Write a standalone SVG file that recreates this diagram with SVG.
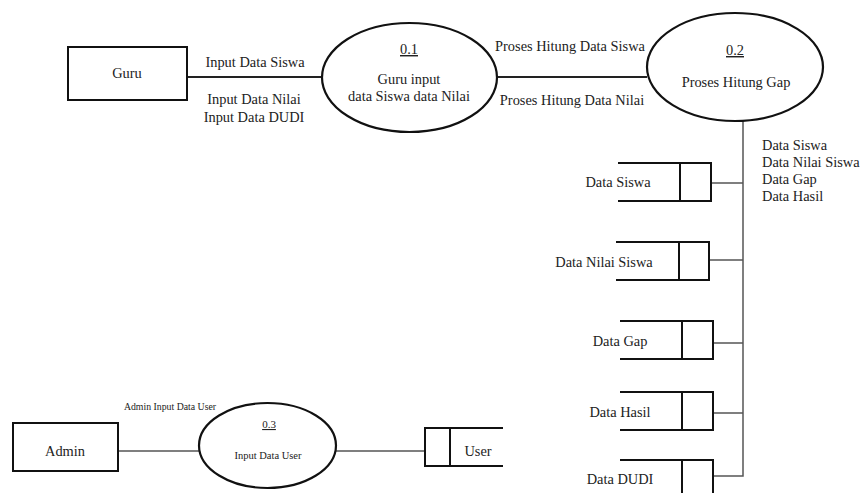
<svg xmlns="http://www.w3.org/2000/svg" width="861" height="493" viewBox="0 0 861 493">
<style>
text{font-family:"Liberation Serif","DejaVu Serif","Times New Roman",Times,serif;fill:#222;font-size:14.4px}
.m{text-anchor:middle}
.s{font-size:9.8px}
.box{fill:#fff;stroke:#111;stroke-width:2}
.proc{fill:#fff;stroke:#111;stroke-width:2.2}
.st{fill:none;stroke:#111;stroke-width:2}
.ln{fill:none;stroke:#222;stroke-width:1.8}
.gl{fill:none;stroke:#555;stroke-width:1.5}
</style>
<rect width="861" height="493" fill="#fff"/>
<g id="connectors">
<line class="ln" x1="187" y1="77" x2="322" y2="77"/>
<line class="ln" x1="497" y1="77" x2="647" y2="77"/>
<polyline class="gl" points="743,121 743,476 713,476"/>
<line class="gl" x1="711" y1="183" x2="743" y2="183"/>
<line class="gl" x1="709" y1="260" x2="743" y2="260"/>
<line class="gl" x1="713" y1="343" x2="743" y2="343"/>
<line class="gl" x1="713" y1="413" x2="743" y2="413"/>
<line class="gl" x1="118" y1="451" x2="199" y2="451"/>
<line class="gl" x1="336" y1="451" x2="425" y2="451"/>
<text class="m" x="255" y="67">Input Data Siswa</text>
<text class="m" x="254" y="104">Input Data Nilai</text>
<text class="m" x="254" y="122">Input Data DUDI</text>
<text class="m" x="570" y="51">Proses Hitung Data Siswa</text>
<text class="m" x="572" y="105">Proses Hitung Data Nilai</text>
<text x="762" y="150">Data Siswa</text>
<text x="762" y="167">Data Nilai Siswa</text>
<text x="762" y="184">Data Gap</text>
<text x="762" y="201">Data Hasil</text>
<text class="m s" x="170" y="410">Admin Input Data User</text>
</g>
<g id="guru">
<rect class="box" x="68" y="47" width="119" height="53"/>
<text class="m" x="127" y="78">Guru</text>
</g>
<g id="p01">
<ellipse class="proc" cx="409.5" cy="77.5" rx="87.5" ry="54.5"/>
<text class="m" x="409" y="54" text-decoration="underline">0.1</text>
<text class="m" x="409" y="84">Guru input</text>
<text class="m" x="409" y="101">data Siswa data Nilai</text>
</g>
<g id="p02">
<ellipse class="proc" cx="735" cy="67" rx="88" ry="54"/>
<text class="m" x="735" y="55" text-decoration="underline">0.2</text>
<text class="m" x="736" y="87">Proses Hitung Gap</text>
</g>
<g id="ds-siswa">
<polyline class="st" points="618,163 711,163 711,201 618,201"/>
<line class="st" x1="680" y1="163" x2="680" y2="201"/>
<text class="m" x="618" y="187">Data Siswa</text>
</g>
<g id="ds-nilai">
<polyline class="st" points="616,242 709,242 709,280 616,280"/>
<line class="st" x1="679" y1="242" x2="679" y2="280"/>
<text class="m" x="604" y="267">Data Nilai Siswa</text>
</g>
<g id="ds-gap">
<polyline class="st" points="620,321 713,321 713,359 620,359"/>
<line class="st" x1="682" y1="321" x2="682" y2="359"/>
<text class="m" x="620" y="346">Data Gap</text>
</g>
<g id="ds-hasil">
<polyline class="st" points="620,392 713,392 713,430 620,430"/>
<line class="st" x1="682" y1="392" x2="682" y2="430"/>
<text class="m" x="620" y="417">Data Hasil</text>
</g>
<g id="ds-dudi">
<polyline class="st" points="620,460 713,460 713,498"/>
<line class="st" x1="682" y1="460" x2="682" y2="498"/>
<text class="m" x="620" y="484">Data DUDI</text>
</g>
<g id="admin">
<rect class="box" x="13" y="423" width="105" height="48"/>
<text class="m" x="65" y="456">Admin</text>
</g>
<g id="p03">
<ellipse class="proc" cx="267.5" cy="445.5" rx="68.5" ry="42.5"/>
<text class="m" x="269" y="428" style="font-size:11px" text-decoration="underline">0.3</text>
<text class="m" x="268" y="459" style="font-size:10.5px">Input Data User</text>
</g>
<g id="ds-user">
<polyline class="st" points="503,428 425,428 425,466 503,466"/>
<line class="st" x1="450" y1="428" x2="450" y2="466"/>
<text class="m" x="478" y="456">User</text>
</g>
</svg>
